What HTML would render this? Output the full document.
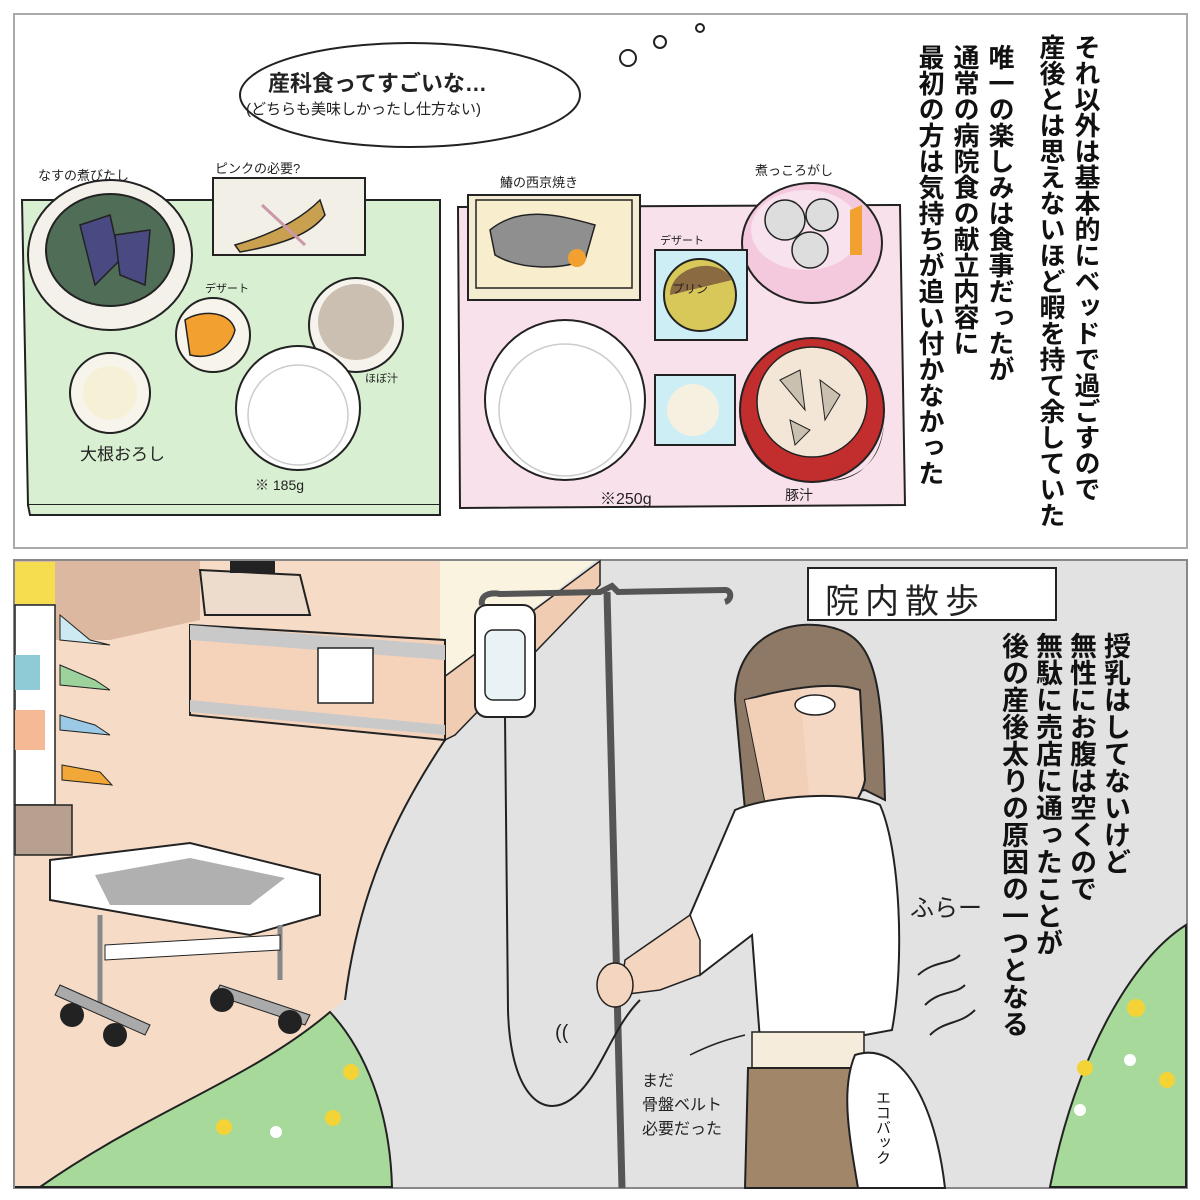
<!DOCTYPE html>
<html><head><meta charset="utf-8"><style>
html,body{margin:0;padding:0;background:#fff;}
#c{position:relative;width:1200px;height:1200px;overflow:hidden;background:#fff;font-family:"Liberation Sans","Noto Sans CJK JP",sans-serif;}
.v{position:absolute;writing-mode:vertical-rl;font-weight:bold;color:#111;white-space:nowrap;font-family:"Liberation Sans","Noto Sans CJK JP",sans-serif;}
.t{position:absolute;color:#222;white-space:nowrap;font-family:"Liberation Sans","Noto Sans CJK JP",sans-serif;}
</style></head><body><div id="c">
<svg width="1200" height="1200" style="position:absolute;left:0;top:0" xmlns="http://www.w3.org/2000/svg">
<rect x="14" y="14" width="1173" height="534" fill="#fff" stroke="#aaa" stroke-width="2"/>
<ellipse cx="410" cy="95" rx="170" ry="52" fill="#fff" stroke="#222" stroke-width="2"/>
<circle cx="628" cy="58" r="8" fill="#fff" stroke="#222" stroke-width="2"/>
<circle cx="660" cy="42" r="6" fill="#fff" stroke="#222" stroke-width="2"/>
<circle cx="700" cy="28" r="4" fill="#fff" stroke="#222" stroke-width="2"/>
<path d="M22,200 L440,200 L440,505 L28,505 Z" fill="#d9efd1" stroke="#222" stroke-width="2"/>
<path d="M28,505 L30,515 L440,515 L440,505" fill="#d9efd1" stroke="#222" stroke-width="2"/>
<ellipse cx="110" cy="255" rx="82" ry="75" fill="#f4f1ea" stroke="#222" stroke-width="2"/>
<ellipse cx="110" cy="250" rx="64" ry="56" fill="#4f6d57" stroke="#222" stroke-width="2"/>
<path d="M80,225 L110,215 L120,260 L95,285 Z" fill="#4a4a82" stroke="#222" stroke-width="1.5"/>
<path d="M115,235 L150,230 L145,285 L120,275 Z" fill="#4a4a82" stroke="#222" stroke-width="1.5"/>
<rect x="213" y="178" width="152" height="77" fill="#f1efe6" stroke="#222" stroke-width="2"/>
<path d="M235,245 C270,235 300,220 320,200 L325,215 C310,235 280,245 240,252 Z" fill="#c8a050" stroke="#222" stroke-width="1.5"/>
<line x1="262" y1="205" x2="305" y2="245" stroke="#c9a" stroke-width="3"/>
<circle cx="213" cy="335" r="37" fill="#f7f4ec" stroke="#222" stroke-width="2"/>
<path d="M185,320 C200,310 230,310 235,330 C230,350 210,360 190,355 Z" fill="#f2a030" stroke="#222" stroke-width="1.5"/>
<circle cx="356" cy="325" r="47" fill="#f6f3ec" stroke="#222" stroke-width="2"/>
<circle cx="356" cy="322" r="38" fill="#cbbfb2"/>
<circle cx="110" cy="393" r="40" fill="#f7f4ec" stroke="#222" stroke-width="2"/>
<circle cx="110" cy="393" r="27" fill="#f6f0d6"/>
<circle cx="298" cy="408" r="62" fill="#fff" stroke="#222" stroke-width="2"/>
<circle cx="298" cy="415" r="50" fill="none" stroke="#ccc" stroke-width="1.5"/>
<path d="M458,207 L900,205 L905,505 L460,508 Z" fill="#f9e1ec" stroke="#222" stroke-width="2"/>
<rect x="468" y="195" width="172" height="105" fill="#f4ecd0" stroke="#222" stroke-width="2"/>
<rect x="476" y="200" width="156" height="88" fill="#f8eecd" stroke="#222" stroke-width="1.5"/>
<path d="M490,230 C520,205 560,215 595,225 L585,260 C560,270 520,270 495,255 Z" fill="#8f8f8f" stroke="#222" stroke-width="1.5"/>
<circle cx="577" cy="258" r="9" fill="#f2a030"/>
<ellipse cx="812" cy="243" rx="70" ry="60" fill="#f5c9dd" stroke="#222" stroke-width="2"/>
<ellipse cx="806" cy="230" rx="55" ry="40" fill="#f7e2ee"/>
<circle cx="785" cy="220" r="20" fill="#ddd" stroke="#222" stroke-width="1.5"/>
<circle cx="822" cy="215" r="16" fill="#ddd" stroke="#222" stroke-width="1.5"/>
<circle cx="810" cy="250" r="18" fill="#ddd" stroke="#222" stroke-width="1.5"/>
<path d="M850,210 L862,205 L862,255 L850,255 Z" fill="#f2a030"/>
<rect x="655" y="250" width="92" height="90" fill="#cdeef5" stroke="#222" stroke-width="2"/>
<circle cx="700" cy="295" r="36" fill="#d8c85a" stroke="#222" stroke-width="2"/>
<path d="M670,295 C670,265 720,255 732,280 Z" fill="#8a6a40"/>
<circle cx="565" cy="400" r="80" fill="#fff" stroke="#222" stroke-width="2"/>
<circle cx="565" cy="410" r="66" fill="none" stroke="#ccc" stroke-width="1.5"/>
<rect x="655" y="375" width="80" height="70" fill="#cdeef5" stroke="#222" stroke-width="2"/>
<circle cx="693" cy="410" r="26" fill="#f6f0e0"/>
<circle cx="812" cy="410" r="72" fill="#c22d2d" stroke="#222" stroke-width="2"/>
<path d="M745,430 C760,480 800,485 840,480 C865,475 880,455 884,425 C880,470 850,482 812,482 C775,482 748,460 745,430 Z" fill="#222"/>
<circle cx="812" cy="402" r="55" fill="#f3e6d6" stroke="#222" stroke-width="1.5"/>
<path d="M780,380 L800,370 L805,410 Z" fill="#c9c0b0" stroke="#222"/>
<path d="M820,380 L840,395 L825,420 Z" fill="#c9c0b0" stroke="#222"/>
<path d="M790,420 L810,430 L795,445 Z" fill="#c9c0b0" stroke="#222"/>

<rect x="14" y="560" width="1173" height="628" fill="#e2e2e2" stroke="#888" stroke-width="2"/>
<path d="M15,561 L440,561 L445,740 C405,800 360,880 345,1000 L330,1012 C250,1080 150,1110 40,1187 L15,1187 Z" fill="#f6dcc7"/>
<path d="M15,561 L200,561 L200,620 L110,640 L15,640 Z" fill="#ddb8a0"/>
<path d="M440,561 L595,561 L440,680 Z" fill="#faf3e0"/>
<path d="M440,680 L600,561 L600,585 L455,735 L445,740 Z" fill="#efccb2" stroke="#222" stroke-width="1.5"/>
<path d="M190,625 L445,640 L445,740 L190,715 Z" fill="#f5d3bb" stroke="#222" stroke-width="2"/>
<path d="M190,625 L445,645 L445,660 L190,640 Z" fill="#c9c9c9"/>
<path d="M190,700 L445,725 L445,735 L190,712 Z" fill="#c9c9c9"/>
<rect x="318" y="648" width="55" height="55" fill="#fff" stroke="#222" stroke-width="1.5"/>
<path d="M200,570 L300,575 L310,615 L205,615 Z" fill="#eddccc" stroke="#222" stroke-width="2"/>
<rect x="230" y="561" width="45" height="12" fill="#222"/>
<rect x="15" y="562" width="40" height="42" fill="#f6dc4f"/>
<rect x="15" y="605" width="40" height="200" fill="#fff" stroke="#222" stroke-width="1.5"/>
<rect x="15" y="655" width="25" height="35" fill="#8fcbd6"/>
<rect x="15" y="710" width="30" height="40" fill="#f5b996"/>
<path d="M60,615 L90,640 L110,645 L60,640 Z" fill="#cde9f2" stroke="#222"/>
<path d="M60,665 L95,680 L110,690 L60,685 Z" fill="#9ed29c" stroke="#222"/>
<path d="M60,715 L95,725 L110,735 L60,730 Z" fill="#9cc9e6" stroke="#222"/>
<path d="M62,765 L100,772 L112,785 L62,780 Z" fill="#f2a838" stroke="#222"/>
<rect x="15" y="805" width="57" height="50" fill="#b8a090" stroke="#222" stroke-width="1.5"/>
<path d="M50,860 L190,843 L320,875 L320,915 L250,935 L50,900 Z" fill="#fff" stroke="#222" stroke-width="2"/>
<path d="M95,875 L190,858 L285,878 L250,905 L110,905 Z" fill="#b0b0b0"/>
<line x1="100" y1="915" x2="100" y2="1010" stroke="#888" stroke-width="5"/>
<line x1="280" y1="925" x2="280" y2="980" stroke="#888" stroke-width="5"/>
<path d="M105,945 L280,935 L280,950 L105,960 Z" fill="#fff" stroke="#222"/>
<path d="M60,985 L150,1025 L145,1035 L55,995 Z" fill="#aaa" stroke="#222"/>
<path d="M220,985 L310,1015 L305,1025 L215,995 Z" fill="#aaa" stroke="#222"/>
<circle cx="72" cy="1015" r="12" fill="#222"/><circle cx="115" cy="1035" r="12" fill="#222"/>
<circle cx="222" cy="1000" r="12" fill="#222"/><circle cx="290" cy="1022" r="12" fill="#222"/>
<path d="M445,740 C405,800 360,880 345,1000" fill="none" stroke="#222" stroke-width="2"/>
<path d="M15,1187 L40,1187 C150,1110 250,1080 330,1012 C365,1050 390,1110 392,1187 Z" fill="#a7d99a" stroke="#222" stroke-width="2"/>
<path d="M1050,1187 C1075,1060 1130,960 1186,925 L1186,1187 Z" fill="#a7d99a" stroke="#222" stroke-width="2"/>
<g fill="#f3d335"><circle cx="351" cy="1072" r="8"/><circle cx="224" cy="1127" r="8"/><circle cx="333" cy="1118" r="8"/><circle cx="1136" cy="1008" r="9"/><circle cx="1085" cy="1068" r="8"/><circle cx="1167" cy="1080" r="8"/></g>
<g fill="#fff"><circle cx="276" cy="1132" r="6"/><circle cx="1130" cy="1060" r="6"/><circle cx="1080" cy="1110" r="6"/></g>
<path d="M482,605 C480,595 490,592 500,594 L600,592 L612,586 L618,592 L725,590 C732,590 732,600 725,602" fill="none" stroke="#555" stroke-width="6"/>
<line x1="607" y1="592" x2="622" y2="1188" stroke="#555" stroke-width="7"/>
<rect x="475" y="605" width="60" height="112" rx="12" fill="#fff" stroke="#222" stroke-width="2"/>
<rect x="485" y="630" width="40" height="70" rx="8" fill="#e9f3f6" stroke="#222" stroke-width="1.5"/>
<path d="M505,717 L508,1010 C510,1090 540,1120 570,1100 C600,1080 610,1030 640,1000" fill="none" stroke="#222" stroke-width="2"/>
<path d="M735,700 C735,630 800,615 840,630 C880,645 882,700 885,800 L865,790 L745,810 Z" fill="#8d7966" stroke="#222" stroke-width="2"/>
<path d="M745,700 C780,690 830,680 860,690 L865,780 C855,830 790,835 765,800 Z" fill="#f4d8c4" stroke="#222" stroke-width="2"/>
<path d="M745,700 L800,690 L812,830 C790,830 770,815 765,800 Z" fill="#f2cfb7"/>
<ellipse cx="815" cy="705" rx="20" ry="10" fill="#fff" stroke="#222" stroke-width="1.5"/>
<path d="M735,810 C770,795 850,790 880,805 C900,850 905,960 892,1030 L865,1035 L760,1040 L752,935 L700,975 L690,915 Z" fill="#fff" stroke="#222" stroke-width="2"/>
<path d="M700,940 L690,915 L625,960 L620,995 L660,990 L700,975 Z" fill="#f4d6c0" stroke="#222" stroke-width="1.5"/>
<ellipse cx="615" cy="985" rx="18" ry="22" fill="#f4d6c0" stroke="#222" stroke-width="1.5"/>
<rect x="752" y="1032" width="112" height="38" fill="#f5ecdc" stroke="#222" stroke-width="1.5"/>
<path d="M748,1068 L868,1068 L885,1188 L745,1188 Z" fill="#a28669" stroke="#222" stroke-width="2"/>
<path d="M855,1055 C900,1040 935,1100 945,1188 L858,1188 C850,1140 840,1090 855,1055 Z" fill="#fff" stroke="#222" stroke-width="2"/>
<path d="M918,975 C935,960 950,965 960,955 M925,1005 C940,990 955,995 965,985 M930,1035 C945,1020 960,1025 975,1010" fill="none" stroke="#222" stroke-width="2"/>
<path d="M690,1055 C710,1045 725,1040 745,1035" fill="none" stroke="#222" stroke-width="1.5"/>
<rect x="808" y="568" width="248" height="52" fill="#fff" stroke="#222" stroke-width="2"/>
</svg>

<div class="t" style="left:268px;top:66px;font-size:22px;font-weight:bold;">産科食ってすごいな…</div>
<div class="t" style="left:246px;top:98px;font-size:15px;">(どちらも美味しかったし仕方ない)</div>
<div class="t" style="left:38px;top:165px;font-size:13px;">なすの煮びたし</div>
<div class="t" style="left:215px;top:158px;font-size:13px;">ピンクの必要?</div>
<div class="t" style="left:205px;top:280px;font-size:11px;">デザート</div>
<div class="t" style="left:365px;top:370px;font-size:11px;">ほぼ汁</div>
<div class="t" style="left:80px;top:440px;font-size:17px;">大根おろし</div>
<div class="t" style="left:255px;top:475px;font-size:14px;">※ 185g</div>
<div class="t" style="left:500px;top:172px;font-size:13px;">鰆の西京焼き</div>
<div class="t" style="left:755px;top:160px;font-size:13px;">煮っころがし</div>
<div class="t" style="left:660px;top:232px;font-size:11px;">デザート</div>
<div class="t" style="left:672px;top:280px;font-size:12px;">プリン</div>
<div class="t" style="left:600px;top:485px;font-size:16px;">※250g</div>
<div class="t" style="left:785px;top:485px;font-size:14px;">豚汁</div>

<div class="v" style="left:1072px;top:34px;font-size:26px;line-height:28px;">それ以外は基本的にベッドで過ごすので</div>
<div class="v" style="left:1037px;top:34px;font-size:26px;line-height:28px;">産後とは思えないほど暇を持て余していた</div>
<div class="v" style="left:986px;top:44px;font-size:26px;line-height:28px;">唯一の楽しみは食事だったが</div>
<div class="v" style="left:951px;top:44px;font-size:26px;line-height:28px;">通常の病院食の献立内容に</div>
<div class="v" style="left:916px;top:44px;font-size:26px;line-height:28px;">最初の方は気持ちが追い付かなかった</div>

<div class="t" style="left:825px;top:574px;font-size:34px;letter-spacing:6px;">院内散歩</div>
<div class="v" style="left:1100px;top:632px;font-size:27px;line-height:30px;">授乳はしてないけど</div>
<div class="v" style="left:1066px;top:632px;font-size:27px;line-height:30px;">無性にお腹は空くので</div>
<div class="v" style="left:1032px;top:632px;font-size:27px;line-height:30px;">無駄に売店に通ったことが</div>
<div class="v" style="left:998px;top:632px;font-size:27px;line-height:30px;">後の産後太りの原因の一つとなる</div>

<div class="t" style="left:910px;top:888px;font-size:24px;">ふらー</div>
<div class="t" style="left:642px;top:1070px;font-size:16px;line-height:24px;">まだ<br>骨盤ベルト<br>必要だった</div>
<div class="v" style="left:872px;top:1090px;font-size:15px;font-weight:normal;">エコバック</div>
<div class="t" style="left:555px;top:1022px;font-size:20px;">((</div>
</div></body></html>
